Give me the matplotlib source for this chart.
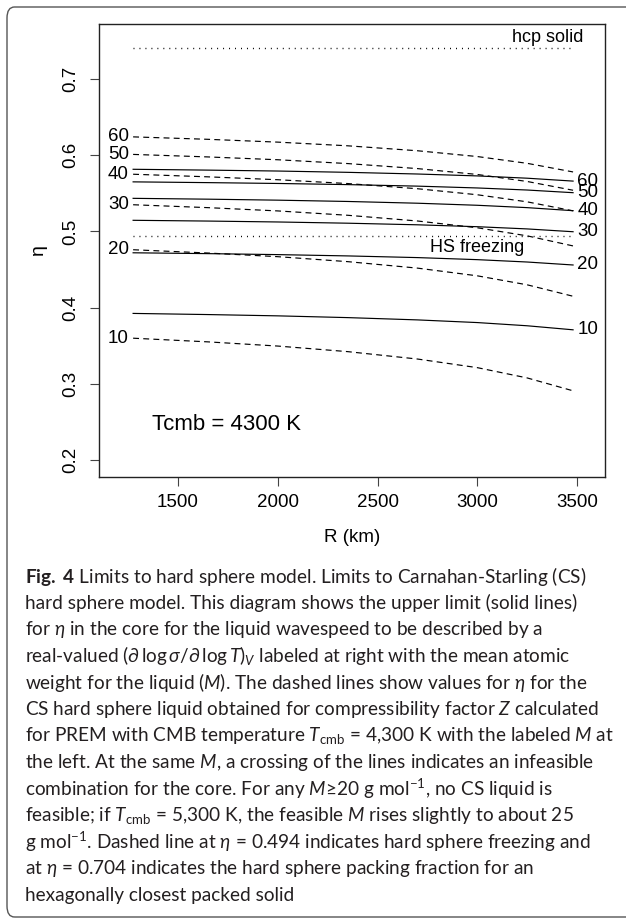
import matplotlib
matplotlib.use("Agg")
import matplotlib.pyplot as plt
from matplotlib.patches import FancyBboxPatch

plt.rcParams['font.family'] = ['Liberation Sans', 'DejaVu Sans']
plt.rcParams['mathtext.fontset'] = 'custom'
plt.rcParams['mathtext.rm'] = 'Lato'
plt.rcParams['mathtext.it'] = 'Lato:italic'
plt.rcParams['mathtext.bf'] = 'Lato:bold'

# radius in the core (km)
radius = [1275, 1650, 2000, 2350, 2700, 3000, 3250, 3480]
mass = [10, 20, 30, 40, 50, 60]

# CS hard sphere eta for PREM (dashed, labeled at left)
eta_dashed = [
    [0.360, 0.3552, 0.3497, 0.3424, 0.3327, 0.3214, 0.3079, 0.291],
    [0.476, 0.4717, 0.4669, 0.4604, 0.4519, 0.4418, 0.430, 0.415],
    [0.535, 0.5312, 0.5269, 0.5212, 0.5137, 0.5048, 0.4942, 0.481],
    [0.575, 0.5716, 0.5678, 0.5628, 0.556, 0.5481, 0.5388, 0.527],
    [0.601, 0.5977, 0.594, 0.589, 0.5824, 0.5747, 0.5655, 0.554],
    [0.624, 0.6208, 0.6171, 0.6123, 0.6058, 0.5982, 0.5893, 0.578],
]
# upper limit of eta (solid, labeled at right)
eta_solid = [
    [0.3925, 0.391, 0.3893, 0.387, 0.384, 0.3805, 0.3763, 0.371],
    [0.472, 0.4709, 0.4696, 0.4679, 0.4657, 0.463, 0.4599, 0.456],
    [0.5146, 0.5136, 0.5124, 0.5108, 0.5087, 0.5062, 0.5033, 0.4996],
    [0.5434, 0.5423, 0.541, 0.5393, 0.537, 0.5343, 0.5312, 0.5272],
    [0.565, 0.564, 0.5629, 0.5614, 0.5594, 0.557, 0.5543, 0.5508],
    [0.5815, 0.5804, 0.5792, 0.5775, 0.5753, 0.5728, 0.5698, 0.566],
]
eta_freeze = 0.494
eta_hcp = 0.74

xticks = [1500, 2000, 2500, 3000, 3500]
yticks = [0.2, 0.3, 0.4, 0.5, 0.6, 0.7]

W, H = 626, 919
fig = plt.figure(figsize=(W / 100, H / 100), dpi=100)

# rounded frame around figure + caption
frame = FancyBboxPatch((7 / W, 1 - 917 / H), 700 / W, 910 / H,
                       boxstyle="round,pad=0,rounding_size=0.012",
                       transform=fig.transFigure, fill=False,
                       ec='#555555', lw=1.0)
fig.patches.append(frame)

ax = fig.add_axes([99 / W, 1 - 477 / H, 506 / W, 453 / H])
dash = (0, (5, 3.6))
dot = (0, (0.7, 3.6))
for m, yd, ys in zip(mass, eta_dashed, eta_solid):
    ax.plot(radius, yd, color='black', lw=0.85, ls=dash)
    ax.plot(radius, ys, color='black', lw=0.85)
    ax.text(radius[0] - 22, yd[0], str(m), ha='right', va='center', fontsize=13.5)
    ax.text(radius[-1] + 22, ys[-1], str(m), ha='left', va='center', fontsize=13.5)

ax.plot([radius[0], radius[-1]], [eta_freeze, eta_freeze], color='black', lw=1.0, ls=dot)
ax.plot([radius[0], radius[-1]], [eta_hcp, eta_hcp], color='black', lw=1.0, ls=dot)
ax.text(2997, 0.4792, 'HS freezing', ha='center', va='center', fontsize=13)
ax.text(3355, 0.754, 'hcp solid', ha='center', va='center', fontsize=13)
ax.text(1370, 0.247, 'Tcmb = 4300 K', ha='left', va='center', fontsize=16)

ax.set_xlim(1104, 3640)
ax.set_ylim(0.178, 0.772)
ax.set_xticks(xticks)
ax.set_yticks(yticks)
ax.set_yticklabels([f'{v:.1f}' for v in yticks])
ax.tick_params(direction='out', length=6.5, width=0.8, color='#444444', labelsize=13.5)
ax.tick_params(axis='x', pad=6)
ax.tick_params(axis='y', pad=8, labelrotation=90)
for lab in ax.get_yticklabels():
    lab.set_va('center')
for s in ax.spines.values():
    s.set_linewidth(1.0)
    s.set_color('#222222')

fig.text(352 / W, 1 - 538 / H, 'R (km)', ha='center', va='center', fontsize=13.5)
fig.text(38 / W, 1 - 250 / H, 'η', ha='center', va='center', fontsize=14, rotation=90)

caption = [
    r'$\mathbf{Fig.}$ $\mathbf{4}$ Limits to hard sphere model. Limits to Carnahan-Starling (CS)',
    'hard sphere model. This diagram shows the upper limit (solid lines)',
    r'for $\eta$ in the core for the liquid wavespeed to be described by a',
    r'real-valued $(\partial\,\log\sigma/\partial\,\log T)_V$ labeled at right with the mean atomic',
    r'weight for the liquid ($M$). The dashed lines show values for $\eta$ for the',
    r'CS hard sphere liquid obtained for compressibility factor $Z$ calculated',
    r'for PREM with CMB temperature $T_{\mathrm{cmb}}$ = 4,300 K with the labeled $M$ at',
    r'the left. At the same $M$, a crossing of the lines indicates an infeasible',
    r'combination for the core. For any $M$≥20 g mol$^{-1}$, no CS liquid is',
    r'feasible; if $T_{\mathrm{cmb}}$ = 5,300 K, the feasible $M$ rises slightly to about 25',
    r'g mol$^{-1}$. Dashed line at $\eta$ = 0.494 indicates hard sphere freezing and',
    r'at $\eta$ = 0.704 indicates the hard sphere packing fraction for an',
    'hexagonally closest packed solid',
]
y0 = 576
for i, line in enumerate(caption):
    fig.text(25 / W, 1 - (y0 + i * 26.6) / H, line, ha='left', va='center',
             fontsize=13.7, family=['Lato', 'DejaVu Sans'], color='#231f20')

fig.savefig('out.png', dpi=100)
